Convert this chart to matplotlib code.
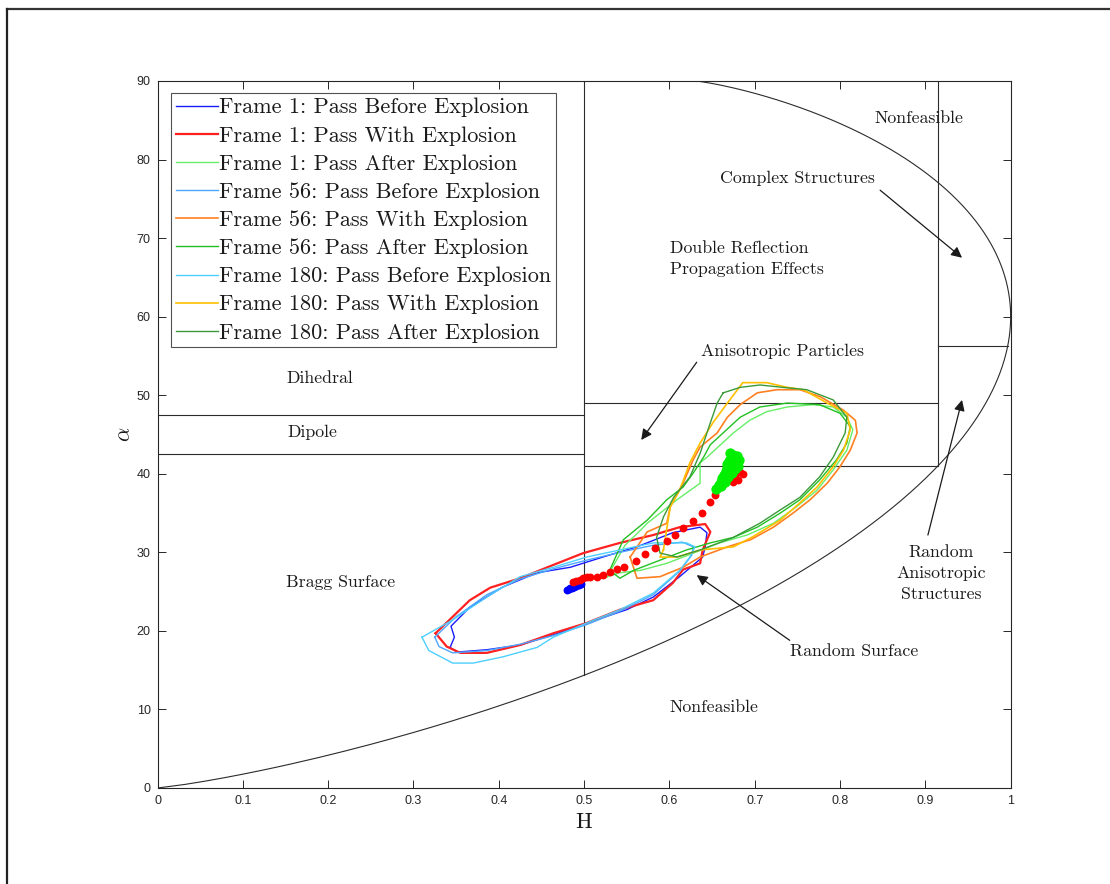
import numpy as np
import matplotlib
matplotlib.use("Agg")
import matplotlib.pyplot as plt
from matplotlib.lines import Line2D

plt.rcParams['mathtext.fontset'] = 'cm'
SERIF = ['cmr10', 'DejaVu Serif']
TICKFONT = ['Liberation Sans Narrow', 'Liberation Sans', 'DejaVu Sans']

# ---------------- zone boundaries of the H / alpha plane ----------------
H_MID = 0.5
H_HIGH = 0.915
ALPHA_LOW_ZONE = [42.5, 47.5]
ALPHA_MID_ZONE = [41.0, 49.0]
ALPHA_HIGH_ZONE = [56.25]

# ---------------- contour data (H, alpha) ----------------
f1_before_H = [0.343, 0.348, 0.344, 0.366, 0.405, 0.445, 0.484, 0.522, 0.562, 0.604, 0.636, 0.644,
               0.642, 0.639, 0.612, 0.581, 0.550, 0.503, 0.464, 0.425, 0.386, 0.351]
f1_before_A = [17.9, 19.2, 20.6, 23.0, 25.6, 27.4, 28.1, 29.4, 30.7, 32.5, 33.2, 32.5,
               30.7, 29.4, 26.9, 24.3, 22.7, 21.0, 19.5, 18.2, 17.6, 17.3]

f1_with_H = [0.326, 0.366, 0.390, 0.425, 0.464, 0.499, 0.542, 0.581, 0.612, 0.642, 0.648, 0.639,
             0.636, 0.616, 0.604, 0.581, 0.542, 0.503, 0.464, 0.425, 0.386, 0.355, 0.339]
f1_with_A = [19.7, 23.9, 25.5, 26.7, 28.4, 29.9, 31.2, 32.2, 33.2, 33.6, 32.6, 30.3,
             28.6, 27.8, 26.1, 23.9, 22.7, 21.0, 19.7, 18.2, 17.2, 17.2, 18.0]

f1_after_H = [0.527, 0.548, 0.566, 0.574, 0.609, 0.636, 0.636, 0.644, 0.675, 0.694, 0.714, 0.738,
              0.769, 0.792, 0.808, 0.815, 0.808, 0.792, 0.773, 0.749, 0.722, 0.691, 0.659, 0.628,
              0.597, 0.566, 0.542]
f1_after_A = [26.9, 30.9, 32.8, 33.7, 36.7, 38.8, 41.4, 42.1, 45.2, 46.8, 47.9, 48.5,
              48.8, 48.5, 47.2, 45.6, 43.0, 40.5, 37.9, 35.8, 33.7, 32.2, 31.2, 29.9,
              28.6, 27.7, 27.4]

f56_before_H = [0.325, 0.350, 0.386, 0.425, 0.464, 0.503, 0.542, 0.581, 0.615, 0.628, 0.626, 0.612,
                0.581, 0.542, 0.503, 0.464, 0.425, 0.386, 0.346, 0.330]
f56_before_A = [19.2, 21.8, 24.6, 26.6, 27.9, 29.0, 30.0, 30.9, 31.3, 30.7, 29.6, 27.6,
                24.6, 22.5, 20.8, 19.4, 18.3, 17.5, 17.2, 18.0]

f56_with_H = [0.554, 0.574, 0.597, 0.601, 0.616, 0.628, 0.636, 0.656, 0.668, 0.683, 0.703, 0.726,
              0.753, 0.777, 0.804, 0.818, 0.820, 0.812, 0.800, 0.785, 0.765, 0.745, 0.722, 0.695,
              0.668, 0.636, 0.616, 0.589, 0.562]
f56_with_A = [29.4, 32.6, 33.7, 35.8, 38.8, 41.8, 43.4, 45.2, 47.2, 48.8, 50.3, 50.7,
              50.7, 49.8, 48.1, 46.8, 45.2, 43.0, 40.9, 38.8, 36.7, 35.0, 33.2, 31.6,
              30.7, 29.4, 28.1, 26.9, 26.7]

f56_after_H = [0.530, 0.546, 0.574, 0.597, 0.616, 0.628, 0.640, 0.648, 0.663, 0.683, 0.706, 0.738,
               0.776, 0.800, 0.812, 0.808, 0.796, 0.776, 0.753, 0.730, 0.703, 0.675, 0.648, 0.620,
               0.589, 0.558, 0.542]
f56_after_A = [27.7, 31.6, 34.1, 36.7, 38.3, 40.1, 42.1, 43.7, 45.2, 47.2, 48.5, 49.0,
               48.8, 47.7, 46.0, 43.9, 41.8, 39.2, 36.7, 35.0, 33.2, 31.9, 31.2, 30.3,
               29.0, 27.7, 26.7]

f180_before_H = [0.310, 0.346, 0.386, 0.425, 0.464, 0.503, 0.542, 0.581, 0.620, 0.630, 0.624, 0.612,
                 0.581, 0.542, 0.503, 0.464, 0.445, 0.405, 0.370, 0.346, 0.318]
f180_before_A = [19.2, 21.4, 24.3, 26.9, 28.1, 29.4, 30.3, 31.2, 31.2, 30.7, 29.4, 27.7,
                 24.8, 22.7, 21.0, 19.2, 17.9, 16.7, 15.9, 15.9, 17.5]

f180_with_H = [0.593, 0.601, 0.612, 0.624, 0.636, 0.651, 0.668, 0.686, 0.714, 0.738, 0.757, 0.785,
               0.808, 0.812, 0.804, 0.792, 0.773, 0.753, 0.730, 0.698, 0.675, 0.636, 0.609, 0.589]
f180_with_A = [30.3, 35.8, 37.9, 41.4, 43.9, 46.5, 49.0, 51.6, 51.6, 51.0, 50.7, 49.0,
               47.7, 45.6, 43.0, 40.9, 38.3, 36.3, 34.1, 32.0, 30.7, 30.3, 29.4, 29.4]

f180_after_H = [0.663, 0.683, 0.706, 0.733, 0.761, 0.792, 0.808, 0.806, 0.792, 0.776, 0.753, 0.730,
                0.706, 0.675, 0.636, 0.609, 0.589, 0.585, 0.593, 0.605, 0.624, 0.636, 0.648, 0.656]
f180_after_A = [50.3, 51.0, 51.3, 51.0, 50.7, 49.4, 47.2, 45.2, 42.1, 39.6, 37.0, 35.4,
                33.7, 31.9, 30.3, 29.4, 29.9, 31.9, 34.5, 37.0, 39.6, 42.6, 46.5, 49.0]

# ---------------- per-frame mean scattering points ----------------
before_pts_H = [0.480, 0.482, 0.484, 0.486, 0.488, 0.490, 0.492, 0.494, 0.496]
before_pts_A = [25.2, 25.3, 25.4, 25.5, 25.6, 25.7, 25.8, 25.9, 26.0]

with_pts_H = [0.487, 0.491, 0.495, 0.499, 0.503, 0.507, 0.515, 0.522, 0.530, 0.539, 0.547, 0.561,
              0.571, 0.583, 0.597, 0.607, 0.616, 0.628, 0.638, 0.648, 0.653, 0.659, 0.665, 0.671,
              0.677, 0.683, 0.686, 0.680, 0.674]
with_pts_A = [26.2, 26.4, 26.5, 26.7, 26.8, 26.9, 26.9, 27.1, 27.5, 27.9, 28.1, 28.9,
              29.8, 30.6, 31.4, 32.2, 33.1, 34.0, 35.0, 36.4, 37.3, 38.3, 38.8, 39.5,
              39.7, 40.2, 40.0, 39.2, 38.9]

after_pts_H = [0.655, 0.658, 0.660, 0.662, 0.664, 0.666, 0.668, 0.667, 0.670, 0.672, 0.674, 0.676,
               0.678, 0.680, 0.677, 0.673, 0.669, 0.665, 0.661, 0.679, 0.682, 0.671, 0.675]
after_pts_A = [38.0, 38.6, 39.0, 39.4, 39.9, 40.3, 40.7, 41.2, 41.6, 42.0, 42.4, 42.0,
               41.5, 41.0, 40.6, 40.1, 39.6, 39.0, 38.4, 42.3, 41.8, 42.6, 40.8]

labels = ['Frame 1: Pass Before Explosion', 'Frame 1: Pass With Explosion',
          'Frame 1: Pass After Explosion', 'Frame 56: Pass Before Explosion',
          'Frame 56: Pass With Explosion', 'Frame 56: Pass After Explosion',
          'Frame 180: Pass Before Explosion', 'Frame 180: Pass With Explosion',
          'Frame 180: Pass After Explosion']
colors = ['#1a1aff', '#ff2020', '#66ee66', '#4da6ff', '#ff8020', '#22c022',
          '#4dcfff', '#ffbf00', '#3a9a3a']
widths = [1.0, 1.6, 1.0, 1.0, 1.2, 1.0, 1.0, 1.2, 1.0]
contours = [(f1_before_H, f1_before_A), (f1_with_H, f1_with_A), (f1_after_H, f1_after_A),
            (f56_before_H, f56_before_A), (f56_with_H, f56_with_A), (f56_after_H, f56_after_A),
            (f180_before_H, f180_before_A), (f180_with_H, f180_with_A),
            (f180_after_H, f180_after_A)]

fig = plt.figure(figsize=(11.1, 8.84), dpi=100)
ax = fig.add_axes([0.1419, 0.1086, 0.9105 - 0.1419, 0.9084 - 0.1086])

# figure border (top and left edges)
fig.add_artist(Line2D([7 / 1110, 1.0], [1 - 9 / 884, 1 - 9 / 884], color='#333333', lw=1.6,
                      transform=fig.transFigure))
fig.add_artist(Line2D([7 / 1110, 7 / 1110], [0.0, 1 - 9 / 884], color='#222222', lw=1.6,
                      transform=fig.transFigure))

# ---------------- feasible-region boundary curves ----------------
def entropy3(p):
    p = np.clip(np.asarray(p, dtype=float), 1e-300, 1)
    return -np.sum(p * np.log(p) / np.log(3), axis=0)

m = np.linspace(0, 1, 400)
p1 = 1 / (1 + 2 * m)
p2 = m / (1 + 2 * m)
low_H = entropy3([p1, p2, p2])
low_A = 90 * 2 * m / (1 + 2 * m)

mu = np.linspace(0.5, 1, 400)
q1 = (2 * mu - 1) / (2 * mu + 1)
q2 = 1 / (2 * mu + 1)
up_H = entropy3([q1, q2, q2])
up_A = 180 / (2 * mu + 1)

bc = '#2b2b2b'
ax.plot(low_H, low_A, color=bc, lw=0.8)
ax.plot(up_H, up_A, color=bc, lw=0.8)

a_low_mid = np.interp(H_MID, low_H, low_A)
a_low_high = np.interp(H_HIGH, low_H, low_A)
a_up_high = np.interp(H_HIGH, up_H[::-1], up_A[::-1])
h_end = np.interp(ALPHA_HIGH_ZONE[0], low_A, low_H)

ax.plot([H_MID, H_MID], [a_low_mid, 90], color=bc, lw=0.8)
ax.plot([H_HIGH, H_HIGH], [a_low_high, a_up_high], color=bc, lw=0.8)
for a in ALPHA_LOW_ZONE:
    ax.plot([0, H_MID], [a, a], color=bc, lw=0.8)
for a in ALPHA_MID_ZONE:
    ax.plot([H_MID, H_HIGH], [a, a], color=bc, lw=0.8)
ax.plot([H_HIGH, h_end], [ALPHA_HIGH_ZONE[0]] * 2, color=bc, lw=0.8)

# ---------------- contours ----------------
handles = []
for (hh, aa), c, lw, lab in zip(contours, colors, widths, labels):
    hh = list(hh) + [hh[0]]
    aa = list(aa) + [aa[0]]
    ln, = ax.plot(hh, aa, color=c, lw=lw, label=lab)
    handles.append(ln)

ax.scatter(before_pts_H, before_pts_A, s=32, color='#0000ff', zorder=5, linewidths=0)
ax.scatter(with_pts_H, with_pts_A, s=32, color='#ff0000', zorder=6, linewidths=0)
ax.scatter(after_pts_H, after_pts_A, s=55, color='#00ee00', zorder=7, linewidths=0)

# ---------------- zone names ----------------
tk = dict(family=SERIF, fontsize=12.8, color='#1a1a1a')
ax.text(0.8925, 85.3, 'Nonfeasible', ha='center', va='center', **tk)
ax.text(0.750, 77.6, 'Complex Structures', ha='center', va='center', **tk)
ax.text(0.601, 67.4, 'Double Reflection\nPropagation Effects', ha='left', va='center',
        linespacing=1.45, **tk)
ax.text(0.733, 55.6, 'Anisotropic Particles', ha='center', va='center', **tk)
ax.text(0.190, 52.2, 'Dihedral', ha='center', va='center', **tk)
ax.text(0.181, 45.3, 'Dipole', ha='center', va='center', **tk)
ax.text(0.214, 26.2, 'Bragg Surface', ha='center', va='center', **tk)
ax.text(0.652, 10.3, 'Nonfeasible', ha='center', va='center', **tk)
ax.text(0.816, 17.4, 'Random Surface', ha='center', va='center', **tk)
ax.text(0.919, 27.3, 'Random\nAnisotropic\nStructures', ha='center', va='center',
        linespacing=1.45, **tk)

arr = dict(arrowstyle='-|>', color='#1a1a1a', lw=0.9, mutation_scale=16,
           shrinkA=0, shrinkB=0)
ax.annotate('', xy=(0.943, 67.5), xytext=(0.847, 76.1), arrowprops=arr)
ax.annotate('', xy=(0.567, 44.3), xytext=(0.632, 54.2), arrowprops=arr)
ax.annotate('', xy=(0.632, 27.1), xytext=(0.741, 18.8), arrowprops=arr)
ax.annotate('', xy=(0.943, 49.4), xytext=(0.903, 32.2), arrowprops=arr)

# ---------------- axes styling ----------------
ax.set_xlim(0, 1)
ax.set_ylim(0, 90)
ax.set_xticks(np.arange(0, 1.01, 0.1))
ax.set_yticks(np.arange(0, 91, 10))
ax.set_xticklabels(['0', '0.1', '0.2', '0.3', '0.4', '0.5', '0.6', '0.7', '0.8', '0.9', '1'])
ax.set_yticklabels([str(v) for v in range(0, 91, 10)])
ax.tick_params(direction='in', length=6, width=0.7, top=True, right=True,
               colors='#262626', labelsize=9, pad=5)
for lab in ax.get_xticklabels() + ax.get_yticklabels():
    lab.set_family(TICKFONT)
    lab.set_stretch('condensed')
for s in ax.spines.values():
    s.set_color('#262626')
    s.set_linewidth(0.8)

ax.set_xlabel('H', family=SERIF, fontsize=16, labelpad=4, color='#1a1a1a')
ax.set_ylabel(r'$\alpha$', fontsize=16, labelpad=2, color='#1a1a1a')

leg = ax.legend(handles=handles, loc='upper left', bbox_to_anchor=(0.0155, 0.983),
                prop=dict(family=SERIF, size=16), frameon=True, fancybox=False,
                edgecolor='#262626', handlelength=1.9, handletextpad=0.05,
                labelspacing=0.385, borderpad=0.22, borderaxespad=0)
leg.get_frame().set_linewidth(0.8)
for t in leg.get_texts():
    t.set_color('#1a1a1a')

fig.savefig('out.png', dpi=100, facecolor='white')
